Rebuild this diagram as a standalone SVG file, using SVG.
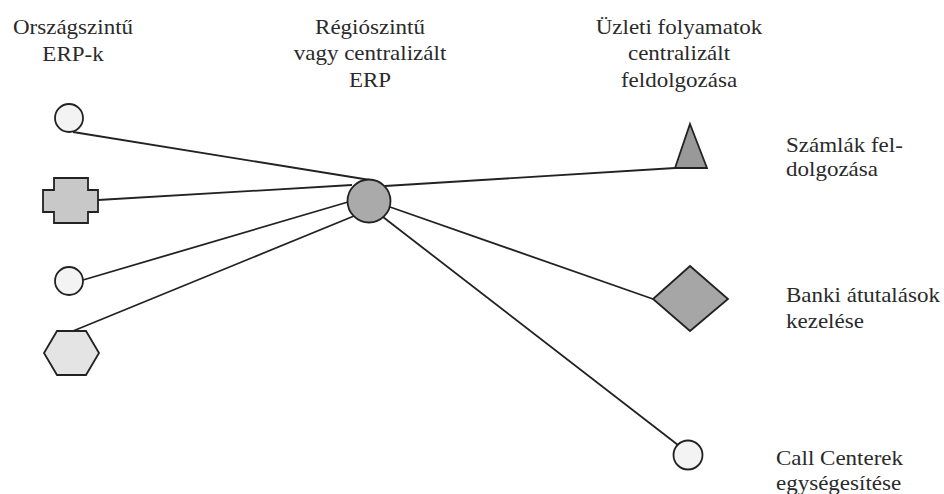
<svg xmlns="http://www.w3.org/2000/svg" width="944" height="494" viewBox="0 0 944 494">
<style>
.t{font-family:'Liberation Serif','DejaVu Serif','Times New Roman',serif;font-size:20px;fill:#2a2a2a}
.c{text-anchor:middle}
.s{stroke:#222;stroke-width:1.8;stroke-linejoin:miter}
.ln{stroke:#222;stroke-width:1.8;fill:none}
</style>
<rect width="944" height="494" fill="#fff"/>
<g id="connectors">
<line class="ln" x1="73" y1="132" x2="370" y2="180"/>
<line class="ln" x1="98" y1="200" x2="352" y2="185"/>
<line class="ln" x1="83" y1="280" x2="348" y2="202"/>
<line class="ln" x1="73" y1="331" x2="354" y2="216"/>
<line class="ln" x1="385" y1="186" x2="675" y2="168"/>
<line class="ln" x1="390" y1="207" x2="653" y2="299"/>
<line class="ln" x1="383" y1="217" x2="678" y2="445"/>
</g>
<g id="label-orszagszintu">
<text class="t c" font-family="Liberation Serif, serif" transform="translate(73,34) scale(1.15,1)"><tspan x="0" y="0">Országszintű</tspan><tspan x="0" y="27">ERP-k</tspan></text>
</g>
<g id="label-regioszintu">
<text class="t c" font-family="Liberation Serif, serif" transform="translate(370,34) scale(1.15,1)"><tspan x="0" y="0">Régiószintű</tspan><tspan x="0" y="26.5">vagy centralizált</tspan><tspan x="0" y="53">ERP</tspan></text>
</g>
<g id="label-uzleti">
<text class="t c" font-family="Liberation Serif, serif" transform="translate(679,34) scale(1.15,1)"><tspan x="0" y="0">Üzleti folyamatok</tspan><tspan x="0" y="26.5">centralizált</tspan><tspan x="0" y="53">feldolgozása</tspan></text>
</g>
<g id="node-circle-1">
<circle class="s" cx="69" cy="118" r="14" fill="#f3f3f3"/>
</g>
<g id="node-cross">
<path class="s" fill="#c8c8c8" d="M54,178 H88 V190 H98 V212 H88 V223 H54 V212 H43 V190 H54 Z"/>
</g>
<g id="node-circle-2">
<circle class="s" cx="69" cy="281" r="14" fill="#f3f3f3"/>
</g>
<g id="node-hexagon">
<polygon class="s" fill="#e4e4e4" points="57,331 86,331 99,353 86,375 57,375 44,353"/>
</g>
<g id="node-center">
<circle class="s" cx="369" cy="201" r="21.5" fill="#aaaaaa"/>
</g>
<g id="node-triangle">
<polygon class="s" fill="#999999" points="690,124 707,168 675,168"/>
<text class="t" font-family="Liberation Serif, serif" transform="translate(786,152) scale(1.15,1)"><tspan x="0" y="0">Számlák fel-</tspan><tspan x="0" y="24.5">dolgozása</tspan></text>
</g>
<g id="node-diamond">
<polygon class="s" fill="#a6a6a6" points="690,266 728,299 690,331 653,299"/>
<text class="t" font-family="Liberation Serif, serif" transform="translate(786,302) scale(1.15,1)"><tspan x="0" y="0">Banki átutalások</tspan><tspan x="0" y="26">kezelése</tspan></text>
</g>
<g id="node-circle-3">
<circle class="s" cx="688" cy="455" r="14.5" fill="#f3f3f3"/>
<text class="t" font-family="Liberation Serif, serif" transform="translate(776,465) scale(1.15,1)"><tspan x="0" y="0">Call Centerek</tspan><tspan x="0" y="25">egységesítése</tspan></text>
</g>
</svg>
